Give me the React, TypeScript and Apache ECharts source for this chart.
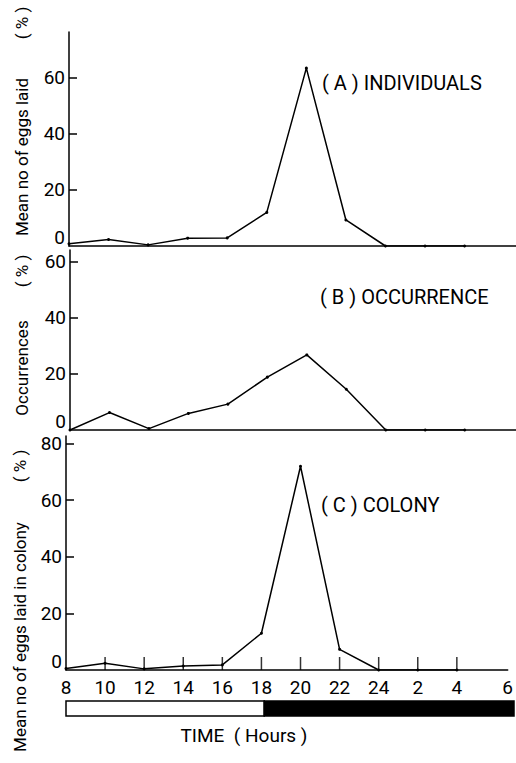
import React, { useEffect, useRef } from "react";
import * as echarts from "echarts";

// hours on a continuous scale (24 = midnight, 26 = 2 h, 28 = 4 h)
const hours = [8, 10, 12, 14, 16, 18, 20, 22, 24, 26, 28];
const xTickLabels = ["8", "10", "12", "14", "16", "18", "20", "22", "24", "2", "4", "6"];

const individuals = [0.8, 2.3, 0.4, 2.8, 2.9, 12, 63.5, 9.3, 0, 0, 0];
const occurrence = [0, 6.2, 0.5, 5.9, 9.2, 18.8, 26.7, 14.5, 0, 0, 0];
const colony = [0.5, 2.4, 0.4, 1.4, 1.8, 13, 72, 7.3, 0, 0, 0];

const yTicksAB = [0, 20, 40, 60];
const yTicksC = [0, 20, 40, 60, 80];

const lightStart = 8;
const darkStart = 18;

const FONT = "Roboto, 'DejaVu Sans', sans-serif";

export default function App() {
  const ref = useRef<HTMLDivElement>(null);

  useEffect(() => {
    if (!ref.current) return;
    const chart = echarts.init(ref.current, undefined, { renderer: "svg" });
    const X_MAX = 30.6;
    const labelValues = [...hours, X_MAX];

    const yLabel = (ticks: number[]) => ({
      customValues: ticks,
      color: "#000",
      fontFamily: FONT,
      fontSize: 19,
      margin: 4,
      formatter: (v: number) => (v === 0 ? "{z|0}" : String(v)),
      rich: {
        z: { fontFamily: FONT, fontSize: 19, color: "#000", padding: [0, 0, 18, 0] },
      },
    });

    const yAxis = (gi: number, max: number, ticks: number[]) => ({
      type: "value",
      gridIndex: gi,
      min: 0,
      max,
      axisLine: { show: true, lineStyle: { color: "#000", width: 1.5 } },
      axisTick: {
        show: true,
        inside: true,
        length: 8,
        customValues: ticks.filter((t) => t !== 0),
        lineStyle: { color: "#000", width: 1.5 },
      },
      axisLabel: yLabel(ticks),
      splitLine: { show: false },
    });

    const xPlain = (gi: number) => ({
      type: "value",
      gridIndex: gi,
      min: 8,
      max: X_MAX,
      axisLine: { show: true, lineStyle: { color: "#000", width: 1.5 } },
      axisTick: { show: false },
      axisLabel: { show: false },
      splitLine: { show: false },
    });

    const lineSeries = (i: number, vals: number[]) => ({
      type: "line",
      xAxisIndex: i,
      yAxisIndex: i,
      data: hours.map((h, k) => [h, vals[k]]),
      symbol: "circle",
      symbolSize: 3,
      lineStyle: { color: "#000", width: 1.5 },
      itemStyle: { color: "#000" },
    });

    const rotText = (text: string, x: number, y: number) => ({
      type: "text",
      x,
      y,
      rotation: Math.PI / 2,
      style: {
        text,
        fill: "#000",
        font: `17px ${FONT}`,
        align: "center",
        verticalAlign: "middle",
      },
    });

    const plainText = (text: string, x: number, y: number, align = "left", size = 19) => ({
      type: "text",
      x,
      y,
      style: {
        text,
        fill: "#000",
        font: `${size}px ${FONT}`,
        align,
        verticalAlign: "middle",
      },
    });

    chart.setOption({
      animation: false,
      backgroundColor: "#fff",
      grid: [
        { left: 69, right: 0, top: 32, height: 214 },
        { left: 70, right: 0, top: 250, height: 180 },
        { left: 66, right: 2, top: 436, height: 234 },
        { left: 66, right: 2, top: 701, height: 15 },
      ],
      xAxis: [
        xPlain(0),
        xPlain(1),
        {
          type: "value",
          gridIndex: 2,
          min: 8,
          max: X_MAX,
          axisLine: { show: true, lineStyle: { color: "#000", width: 1.5 } },
          axisTick: { show: false },
          axisLabel: {
            customValues: labelValues,
            showMinLabel: true,
            showMaxLabel: true,
            color: "#000",
            fontFamily: FONT,
            fontSize: 19,
            margin: 8,
            formatter: (v: number) => {
              const i = labelValues.findIndex((t) => Math.abs(t - v) < 1e-6);
              return i >= 0 ? xTickLabels[i] : "";
            },
          },
          splitLine: { show: false },
        },
        { type: "value", gridIndex: 3, min: 8, max: X_MAX, show: false },
      ],
      yAxis: [
        yAxis(0, 76.4, yTicksAB),
        yAxis(1, 64, yTicksAB),
        yAxis(2, 82.7, yTicksC),
        { type: "value", gridIndex: 3, min: 0, max: 1, show: false },
      ],
      series: [
        lineSeries(0, individuals),
        lineSeries(1, occurrence),
        lineSeries(2, colony),
        {
          // inward tick marks on the bottom time axis
          type: "scatter",
          xAxisIndex: 2,
          yAxisIndex: 2,
          silent: true,
          data: hours.slice(1).map((h) => [h, 0]),
          symbol: "rect",
          symbolSize: [1.5, 13],
          symbolOffset: [0, "-50%"],
          itemStyle: { color: "#000" },
          z: 1,
        },
        {
          type: "custom",
          xAxisIndex: 3,
          yAxisIndex: 3,
          encode: { x: [0, 1] },
          data: [
            [lightStart, darkStart, 0],
            [darkStart, X_MAX, 1],
          ],
          renderItem: (_p: any, api: any) => {
            const s = api.coord([api.value(0), 0]);
            const e = api.coord([api.value(1), 1]);
            return {
              type: "rect",
              shape: { x: s[0], y: e[1], width: e[0] - s[0], height: s[1] - e[1] },
              style: {
                fill: api.value(2) ? "#000" : "#fff",
                stroke: "#000",
                lineWidth: 1.5,
              },
            };
          },
        },
      ],
      graphic: [
        rotText("Mean no of eggs laid", 22, 157),
        rotText("( % )", 22, 23),
        rotText("Occurrences", 22, 368),
        rotText("( % )", 22, 271),
        rotText("Mean no of eggs laid in colony", 20, 637),
        rotText("( % )", 20, 466),
        plainText("( A ) INDIVIDUALS", 322, 83, "left", 20),
        plainText("( B ) OCCURRENCE", 320, 297, "left", 20),
        plainText("( C ) COLONY", 321, 505, "left", 20),
        plainText("TIME  ( Hours )", 244, 735, "center", 19),
      ],
    });

    return () => chart.dispose();
  }, []);

  return (
    <div
      ref={ref}
      style={{ position: "absolute", left: 0, top: 0, width: 516, height: 763 }}
    />
  );
}
